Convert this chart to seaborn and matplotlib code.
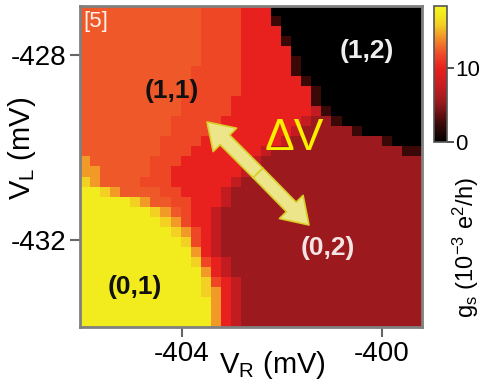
import numpy as np
import pandas as pd
import seaborn as sns
import matplotlib.pyplot as plt
from matplotlib.colors import LinearSegmentedColormap
from matplotlib.patches import FancyArrowPatch

plt.rcParams["font.family"] = ["Liberation Sans", "DejaVu Sans"]
plt.rcParams["mathtext.fontset"] = "custom"
plt.rcParams["mathtext.rm"] = "Liberation Sans"
plt.rcParams["mathtext.it"] = "Liberation Sans:italic"

# axis ranges (mV)
vr_limits = [-406.04, -399.2]
vl_limits = [-426.94, -433.88]
vr_ticks = [-404, -400]
vl_ticks = [-428, -432]
cbar_ticks = [0, 10]
g_max = 18.5

# g_s value of each shade seen in the map (10^-3 e^2/h)
levels = {"K": 0.0, "k": 2.5, "D": 5.5, "d": 7.5, "R": 10.0, "r": 11.8,
          "O": 12.5, "o": 14.5, "y": 16.0, "Y": 17.5}

# shade per cell, top row first (V_L high -> low), left to right in V_R
gs_map = [
    "OOOOOOOOOOOOrrrrRRRKKKKKKKKKKKKKKK",
    "OOOOOOOOOOOOrrrrRRRkKKKKKKKKKKKKKK",
    "OOOOOOOOOOOOrrrrRRRRKKKKKKKKKKKKKK",
    "OOOOOOOOOOOOrrrrRRRRkKKKKKKKKKKKKK",
    "OOOOOOOOOOOOrrrrRRRRRKKKKKKKKKKKKK",
    "OOOOOOOOOOOOrrrrRRRRRkKKKKKKKKKKKK",
    "OOOOOOOOOOOrrrrrRRRRRkKKKKKKKKKKKK",
    "OOOOOOOOOOOrrrrrRRRRRRkKKKKKKKKKKK",
    "OOOOOOOOOOOrrrrrRRRRRRRkKKKKKKKKKK",
    "OOOOOOOOOOrrrrrRRRRRRRRkKKKKKKKKKK",
    "OOOOOOOOOOrrrrrRRRRRRRRdkKKKKKKKKK",
    "OOOOOOOOOrrrrrRRRRRRRRdDDkKKKKKKKK",
    "OOOOOOOOOrrrrRRRRRRRRdDDDDDkKKKKKK",
    "OOOOOOOOrrrrRRRRRRRRdDDDDDDDDDkKKK",
    "OOOOOOOOrrrRRRRRRRdDDDDDDDDDDDDDkk",
    "oOOOOOOrrrRRRRRRRdDDDDDDDDDDDDDDDD",
    "ooOOOOOrrRRRRRRRdDDDDDDDDDDDDDDDDD",
    "yoOOOOrrrRRRRRRdDDDDDDDDDDDDDDDDDD",
    "YYyoOOOOrrRRRRdDDDDDDDDDDDDDDDDDDD",
    "YYYYYyoOOrrRRRdDDDDDDDDDDDDDDDDDDD",
    "YYYYYYYyoOrRRdDDDDDDDDDDDDDDDDDDDD",
    "YYYYYYYYyorRRdDDDDDDDDDDDDDDDDDDDD",
    "YYYYYYYYYyorRdDDDDDDDDDDDDDDDDDDDD",
    "YYYYYYYYYYyrRdDDDDDDDDDDDDDDDDDDDD",
    "YYYYYYYYYYYoRdDDDDDDDDDDDDDDDDDDDD",
    "YYYYYYYYYYYyrRdDDDDDDDDDDDDDDDDDDD",
    "YYYYYYYYYYYYoRdDDDDDDDDDDDDDDDDDDD",
    "YYYYYYYYYYYYyrRdDDDDDDDDDDDDDDDDDD",
    "YYYYYYYYYYYYyoRdDDDDDDDDDDDDDDDDDD",
    "YYYYYYYYYYYYYoRdDDDDDDDDDDDDDDDDDD",
    "YYYYYYYYYYYYYoRdDDDDDDDDDDDDDDDDDD",
    "YYYYYYYYYYYYYoRdDDDDDDDDDDDDDDDDDD",
]

grid = pd.DataFrame([[levels[c] for c in row] for row in gs_map])
n_rows, n_cols = grid.shape

cmap = LinearSegmentedColormap.from_list("gs", [
    (0.0, "#000000"), (2.5 / g_max, "#3c0808"), (5.5 / g_max, "#9c1a1e"),
    (7.5 / g_max, "#c41c20"), (10 / g_max, "#e8201e"), (11.8 / g_max, "#ee4626"),
    (12.5 / g_max, "#ef5a2a"), (14.5 / g_max, "#f29a28"), (16 / g_max, "#f2d022"),
    (17.5 / g_max, "#f2ec1e"), (1.0, "#f6f426")])

fig = plt.figure(figsize=(4.88, 3.87), dpi=100)
ax = fig.add_axes([80 / 488, 1 - 327 / 387, 342 / 488, 321 / 387])
cax = fig.add_axes([434 / 488, 1 - 142 / 387, 13 / 488, 136 / 387])

sns.heatmap(grid, ax=ax, cbar_ax=cax, cmap=cmap, vmin=0, vmax=g_max,
            xticklabels=False, yticklabels=False, linewidths=0)

# place ticks through the V_R / V_L scales
xpos = [(v - vr_limits[0]) / (vr_limits[1] - vr_limits[0]) * n_cols for v in vr_ticks]
ypos = [(v - vl_limits[0]) / (vl_limits[1] - vl_limits[0]) * n_rows for v in vl_ticks]
ax.set_xticks(xpos)
ax.set_xticklabels([str(v) for v in vr_ticks], fontsize=20)
ax.set_yticks(ypos)
ax.set_yticklabels([str(v) for v in vl_ticks], fontsize=20, rotation=0)
ax.tick_params(length=7, width=1.5, color="#666666", pad=3)
for s in ax.spines.values():
    s.set_visible(True)
    s.set_color("#808080")
    s.set_linewidth(2)

cbar = ax.collections[0].colorbar
cbar.set_ticks(cbar_ticks)
cbar.ax.tick_params(labelsize=16, length=5, width=1.2, color="#333333", pad=1)
cbar.outline.set_edgecolor("#555555")
cbar.outline.set_linewidth(1.2)

fig.text(272 / 488, 1 - 365 / 387, "V$_\\mathrm{R}$ (mV)", fontsize=21,
         ha="center", va="center")
fig.text(22 / 488, 1 - 148 / 387, "V$_\\mathrm{L}$ (mV)", fontsize=21,
         rotation=90, ha="center", va="center")
fig.text(466 / 488, 1 - 248 / 387, "g$_\\mathrm{s}$ (10$^{-3}$ e$^{2}$/h)",
         fontsize=17, rotation=90, ha="center", va="center")


def fx(px):
    return (px - 80) / 342


def fy(py):
    return (327 - py) / 321


ax.text(fx(96), fy(22), "[5]", transform=ax.transAxes, fontsize=16,
        color="#fff0e8", ha="center", va="center")
for txt, px, py, col in [("(1,1)", 172, 91, "#111111"), ("(1,2)", 367, 51, "#eeeeee"),
                         ("(0,2)", 328, 248, "#f4e4e4"), ("(0,1)", 135, 287, "#111111")]:
    ax.text(fx(px), fy(py), txt, transform=ax.transAxes, fontsize=19,
            fontweight="bold", color=col, ha="center", va="center")
ax.text(fx(294), fy(139), "\u0394V", transform=ax.transAxes, fontsize=32,
        color="#f8f000", ha="center", va="center")

mid = (fx(258), fy(173))
for end in [(fx(207), fy(122)), (fx(309), fy(225))]:
    ax.add_patch(FancyArrowPatch(mid, end, transform=ax.transAxes,
                                 arrowstyle="simple,head_length=1.3,head_width=1.7,tail_width=0.7",
                                 mutation_scale=14, facecolor="#ece58a",
                                 edgecolor="#d8d028", lw=1.2, shrinkA=0, shrinkB=0))

fig.savefig("out.png", dpi=100)
